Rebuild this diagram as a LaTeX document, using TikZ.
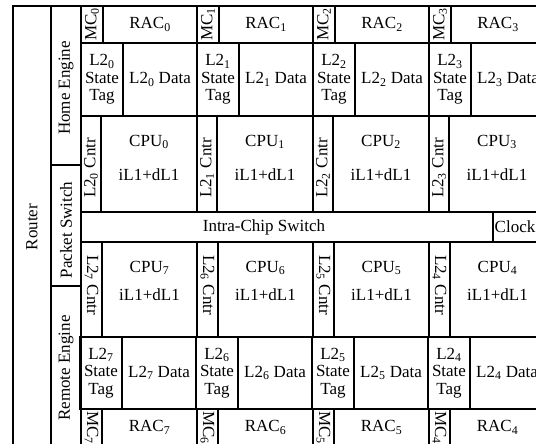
\documentclass[tikz,border=0pt]{standalone}
\usepackage{fontspec}
\setmainfont{Liberation Serif}
\newcommand\dfont{\fontsize{17}{17.5}\selectfont}
\newcommand\sub[1]{\textsubscript{#1}}
\begin{document}
\begin{tikzpicture}[x=1pt,y=-1pt,
  box/.style={draw, line width=1.3pt, inner sep=0pt, outer sep=0pt, align=center, font=\dfont},
  lbl/.style={inner sep=0pt, align=center, font=\dfont}]
\useasboundingbox (0,0) rectangle (536,444);
\clip (0,0) rectangle (536,444);
\fill[white] (0,0) rectangle (536,444);
% left columns
\node[box, minimum width=38pt, minimum height=440pt] (router) at (32,226) {};
\node[lbl, rotate=90] (routerT) at (32,227) {Router};
\node[box, minimum width=30pt, minimum height=159pt] (home) at (66,85.5) {};
\node[lbl, rotate=90] (homeT) at (66,88) {Home Engine};
\node[box, minimum width=30pt, minimum height=121pt] (pswitch) at (66,225.5) {};
\node[lbl, rotate=90] (pswitchT) at (66,230) {Packet Switch};
\node[box, minimum width=30pt, minimum height=160pt] (remote) at (66,366) {};
\node[lbl, rotate=90] (remoteT) at (66,368) {Remote Engine};
% switch row
\node[box, minimum width=412pt, minimum height=30pt] (ics) at (287,227) {};
\node[lbl] (icsT) at (264,227) {Intra-Chip Switch};
\node[box, minimum width=52pt, minimum height=30pt] (clock) at (519,227) {};
\node[lbl] (clockT) at (515,227) {Clock};
% columns
\foreach \i/\u/\l in {0/0/7,1/1/6,2/2/5,3/3/4} {
  \pgfmathsetmacro\xa{81+116*\i}
  % upper half
  \node[box, minimum width=22pt, minimum height=37pt] (mc\u) at (\xa+11,24.5) {};
  \node[lbl, rotate=90] (mcT\u) at (\xa+11,24.5) {MC\sub{\u}};
  \node[box, minimum width=94pt, minimum height=37pt] (rac\u) at (\xa+69,24.5) {RAC\sub{\u}};
  \node[box, minimum width=42pt, minimum height=73pt] (tag\u) at (\xa+21,79.5) {L2\sub{\u}\\State\\Tag};
  \node[box, minimum width=74pt, minimum height=73pt] (data\u) at (\xa+79,79.5) {L2\sub{\u} Data};
  \node[box, minimum width=20pt, minimum height=96pt] (cntr\u) at (\xa+10,164.5) {};
  \node[lbl, rotate=90] (cntrT\u) at (\xa+10,168) {L2\sub{\u} Cntr};
  \node[box, minimum width=96pt, minimum height=96pt] (cpu\u) at (\xa+68,164.5) {};
  \node[lbl] (cpuT\u) at (\xa+68,142) {CPU\sub{\u}};
  \node[lbl] (cacheT\u) at (\xa+68,175) {iL1+dL1};
  % lower half
  \node[box, minimum width=21pt, minimum height=95pt] (cntr\l) at (\xa+10.5,289.5) {};
  \node[lbl, rotate=-90] (cntrT\l) at (\xa+10.5,285) {L2\sub{\l} Cntr};
  \node[box, minimum width=95pt, minimum height=95pt] (cpu\l) at (\xa+68.5,289.5) {};
  \node[lbl] (cpuT\l) at (\xa+68.5,268) {CPU\sub{\l}};
  \node[lbl] (cacheT\l) at (\xa+68.5,295) {iL1+dL1};
  \node[box, minimum width=42pt, minimum height=72pt] (tag\l) at (\xa+20,373) {L2\sub{\l}\\State\\Tag};
  \node[box, minimum width=74pt, minimum height=72pt] (data\l) at (\xa+78,373) {L2\sub{\l} Data};
  \node[box, minimum width=21pt, minimum height=37pt] (mc\l) at (\xa+10.5,427.5) {};
  \node[lbl, rotate=-90] (mcT\l) at (\xa+10.5,427.5) {MC\sub{\l}};
  \node[box, minimum width=95pt, minimum height=37pt] (rac\l) at (\xa+68.5,427.5) {RAC\sub{\l}};
}
\end{tikzpicture}
\end{document}
